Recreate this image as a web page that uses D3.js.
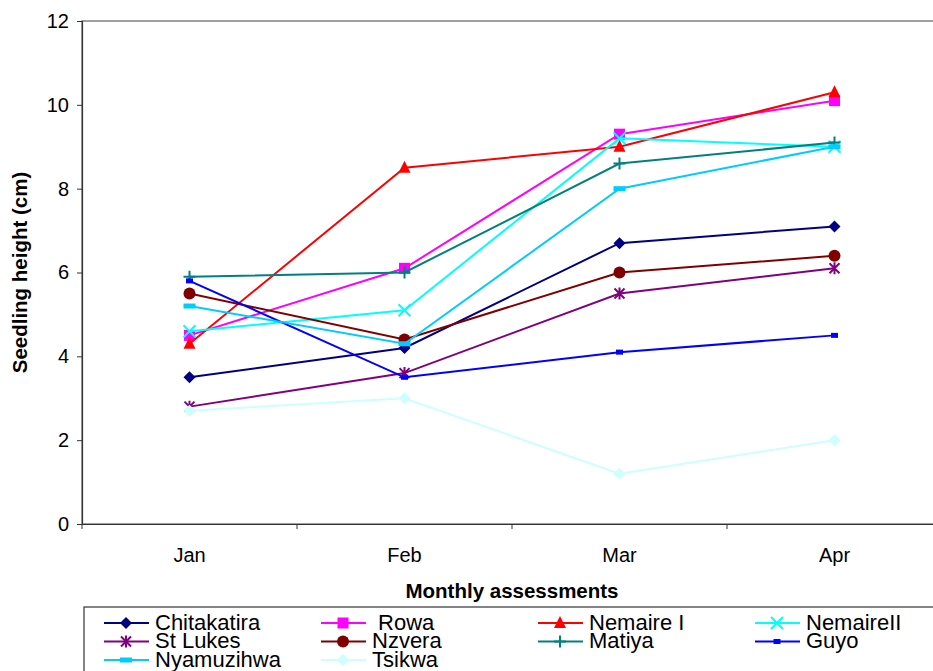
<!DOCTYPE html>
<html><head><meta charset="utf-8">
<script src="https://cdn.jsdelivr.net/npm/d3@7"></script>
<style>body{margin:0;background:#fff}svg{display:block;font-family:"Liberation Sans",Arial,sans-serif}</style>
</head><body><svg id="c" width="933" height="671"></svg>
<script>
const months = ["Jan","Feb","Mar","Apr"];
const seriesNames = ["Chitakatira"," Rowa","Nemaire I","NemaireII","St Lukes","Nzvera","Matiya","Guyo","Nyamuzihwa","Tsikwa"];
const chitakatira = [3.5,4.2,6.7,7.1];
const rowa = [4.5,6.1,9.3,10.1];
const nemaireI = [4.3,8.5,9.0,10.3];
const nemaireII = [4.6,5.1,9.2,9.0];
const stLukes = [2.8,3.6,5.5,6.1];
const nzvera = [5.5,4.4,6.0,6.4];
const matiya = [5.9,6.0,8.6,9.1];
const guyo = [5.8,3.5,4.1,4.5];
const nyamuzihwa = [5.2,4.3,8.0,9.0];
const tsikwa = [2.7,3.0,1.2,2.0];
const yTicks = [0,2,4,6,8,10,12];
const colors = ["#000080","#FF00FF","#FF0000","#00FFFF","#800080","#800000","#008080","#0000FF","#00CCFF","#CCFFFF"];
const markers = ["diamond","square","triangle","x","star","circle","plus","smallrect","bar","diamond"];
const values = [chitakatira,rowa,nemaireI,nemaireII,stLukes,nzvera,matiya,guyo,nyamuzihwa,tsikwa];

const svg = d3.select("#c");
const L=82, R=942, T=21, B=524;
const x = d3.scaleBand().domain(months).range([L,R]);
const y = d3.scaleLinear().domain([0,12]).range([B,T]);
const FF = "Liberation Sans, Arial, sans-serif";

svg.append("rect").attr("x",L).attr("y",T).attr("width",R-L).attr("height",B-T)
  .attr("fill","none").attr("stroke","#808080").attr("stroke-width",1.5);

const yAxis = svg.append("g").attr("transform",`translate(${L},0)`)
  .call(d3.axisLeft(y).tickValues(yTicks).tickSize(5).tickPadding(8).tickFormat(d3.format("d")));
yAxis.select(".domain").attr("stroke","#333").attr("stroke-width",1.2);
yAxis.selectAll(".tick line").attr("stroke","#333");
yAxis.selectAll("text").attr("font-size",20).attr("fill","#000").attr("font-family",FF);

const xAxis = svg.append("g").attr("transform",`translate(0,${B})`)
  .call(d3.axisBottom(x).tickSize(0).tickPadding(24));
xAxis.select(".domain").attr("stroke","#333").attr("stroke-width",1.2);
xAxis.selectAll("text").attr("font-size",20).attr("fill","#000").attr("font-family",FF);
const bounds = months.map(m=>x(m)).concat([R]);
svg.append("g").selectAll("line").data(bounds).join("line")
  .attr("x1",d=>d).attr("x2",d=>d).attr("y1",B).attr("y2",B+5).attr("stroke","#333");

svg.append("text").attr("x",(L+R)/2).attr("y",598).attr("text-anchor","middle")
  .attr("font-weight","bold").attr("font-size",20.5).text("Monthly assessments");
svg.append("text").attr("transform",`translate(27,${(T+B)/2}) rotate(-90)`).attr("text-anchor","middle")
  .attr("font-weight","bold").attr("font-size",20.5).text("Seedling height (cm)");

function drawMarker(g, type, cx, cy, color){
  const s=6;
  switch(type){
    case "diamond": g.append("path").attr("d",`M${cx},${cy-s}L${cx+s},${cy}L${cx},${cy+s}L${cx-s},${cy}Z`).attr("fill",color); break;
    case "square": g.append("rect").attr("x",cx-5.5).attr("y",cy-5.5).attr("width",11).attr("height",11).attr("fill",color); break;
    case "triangle": g.append("path").attr("d",`M${cx},${cy-7}L${cx+6},${cy+5}L${cx-6},${cy+5}Z`).attr("fill",color); break;
    case "x": g.append("path").attr("d",`M${cx-6},${cy-6}L${cx+6},${cy+6}M${cx+6},${cy-6}L${cx-6},${cy+6}`).attr("stroke",color).attr("stroke-width",2); break;
    case "star": g.append("path").attr("d",`M${cx-5},${cy-5}L${cx+5},${cy+5}M${cx+5},${cy-5}L${cx-5},${cy+5}M${cx},${cy-6}L${cx},${cy+6}`).attr("stroke",color).attr("stroke-width",2); break;
    case "circle": g.append("circle").attr("cx",cx).attr("cy",cy).attr("r",6).attr("fill",color); break;
    case "plus": g.append("path").attr("d",`M${cx-6},${cy}L${cx+6},${cy}M${cx},${cy-6}L${cx},${cy+6}`).attr("stroke",color).attr("stroke-width",2); break;
    case "smallrect": g.append("rect").attr("x",cx-3.5).attr("y",cy-2.5).attr("width",7).attr("height",5).attr("fill",color); break;
    case "bar": g.append("rect").attr("x",cx-6).attr("y",cy-2.5).attr("width",12).attr("height",5).attr("fill",color); break;
  }
}

const line = d3.line().x((d,i)=>x(months[i])+x.bandwidth()/2).y(d=>y(d));
const plot = svg.append("g");
values.forEach((vals,k)=>{
  const g = plot.append("g");
  g.append("path").attr("d",line(vals)).attr("fill","none").attr("stroke",colors[k]).attr("stroke-width",2);
  vals.forEach((v,i)=>drawMarker(g,markers[k],x(months[i])+x.bandwidth()/2,y(v),colors[k]));
});

// legend
const lg = svg.append("g");
lg.append("rect").attr("x",84).attr("y",607).attr("width",900).attr("height",100)
  .attr("fill","#fff").attr("stroke","#333").attr("stroke-width",1.2);
const colW = 217, rowH = 18.5;
seriesNames.forEach((n,k)=>{
  const c = k%4, r = Math.floor(k/4);
  const lx = 104 + c*colW, ly = 623 + r*rowH;
  const g = lg.append("g");
  g.append("line").attr("x1",lx).attr("x2",lx+45).attr("y1",ly).attr("y2",ly).attr("stroke",colors[k]).attr("stroke-width",2);
  drawMarker(g,markers[k],lx+22,ly,colors[k]);
  g.append("text").attr("x",lx+51).attr("y",ly+6.5).attr("font-size",22).attr("xml:space","preserve").style("white-space","pre").text(n);
});
</script></body></html>
